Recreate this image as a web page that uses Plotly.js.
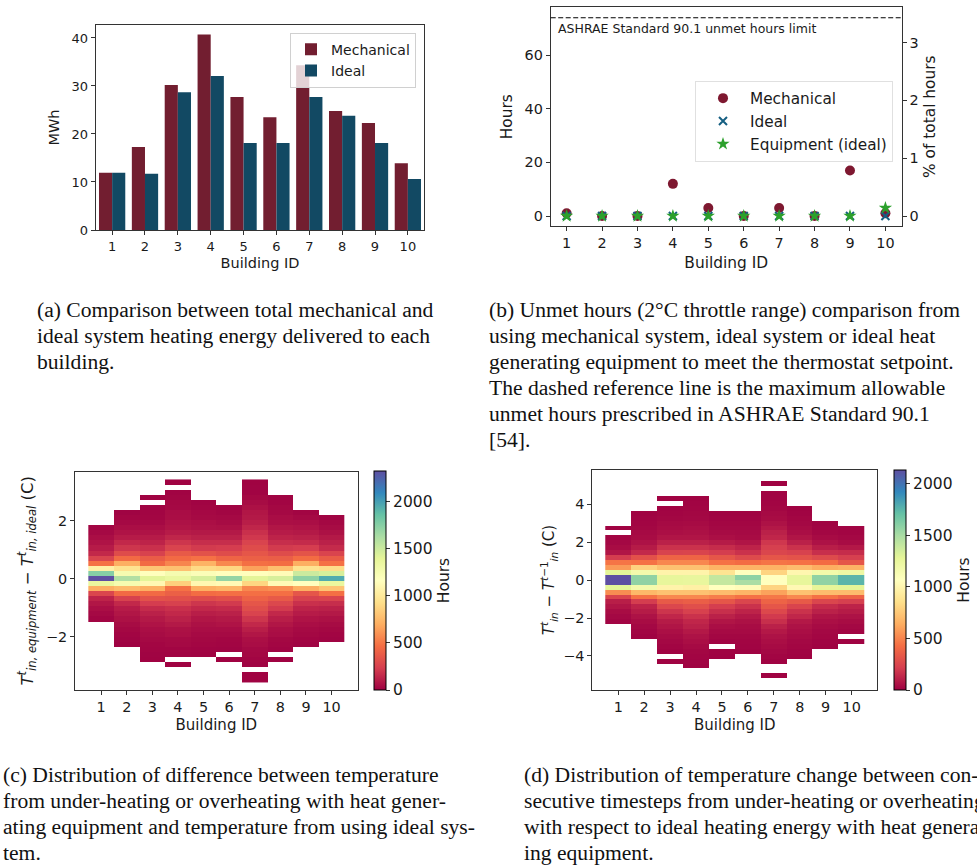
<!DOCTYPE html>
<html><head><meta charset="utf-8">
<script src="https://cdn.plot.ly/plotly-3.0.1.min.js"></script>
<style>html,body{margin:0;padding:0;background:#fff}#chart{width:977px;height:867px}</style>
</head><body><div id="chart"></div><script>
const n = null;
const buildings = [1,2,3,4,5,6,7,8,9,10];
// (a) heating energy, MWh
const energyMechanical = [11.9,17.3,30.2,40.7,27.7,23.5,34.3,24.8,22.3,13.9];
const energyIdeal = [11.9,11.7,28.7,32.1,18.1,18.1,27.7,23.8,18.1,10.6];
// (b) unmet hours
const unmetMechanical = [1,0,0,12,3,0,3,0,17,1];
const unmetIdeal = [0,0,0,0,0,0,0,0,0,0];
const unmetEquipment = [0,0,0,0,0,0,0,0,0,3];
const ashraeLimit = 74;
const hoursPerPercent = 21.58;
// (c) bin centres of T_equipment - T_ideal (C), counts per building (hours)
const diffBins = [3.345,3.17,2.995,2.82,2.645,2.47,2.295,2.12,1.945,1.77,1.595,1.42,1.245,1.07,0.895,0.72,0.545,0.37,0.195,0.02,-0.155,-0.33,-0.505,-0.68,-0.855,-1.03,-1.205,-1.38,-1.555,-1.73,-1.905,-2.08,-2.255,-2.43,-2.605,-2.78,-2.955,-3.13,-3.305,-3.48];
const diffB1 = [n,n,n,n,n,n,n,n,n,15,30,50,70,100,150,260,480,1050,1750,2320,1350,700,270,130,80,50,30,15,n,n,n,n,n,n,n,n,n,n,n,n];
const diffB2 = [n,n,n,n,n,n,10,20,30,50,70,100,150,200,300,450,700,950,1250,1600,1250,750,450,250,150,100,80,60,40,25,15,10,5,n,n,n,n,n,n,n];
const diffB3 = [n,n,n,8,n,10,15,20,30,50,70,100,130,180,250,380,450,800,1150,1400,1100,700,450,330,230,160,120,90,70,50,40,30,20,15,10,8,n,n,n,n];
const diffB4 = [8,n,12,18,25,30,45,50,65,75,100,140,200,260,370,450,550,780,1250,1350,850,480,400,320,250,180,150,120,90,60,55,35,30,15,12,n,8,n,n,n];
const diffB5 = [n,n,n,n,12,18,28,35,55,65,90,120,170,220,330,480,720,900,1200,1450,1100,700,460,300,200,150,110,80,60,45,35,25,20,12,8,n,n,n,n,n];
const diffB6 = [n,n,n,n,n,10,18,30,40,60,90,120,170,230,300,420,560,880,1150,1700,1120,730,470,320,220,160,120,90,70,45,35,20,15,10,n,8,n,n,n,n];
const diffB7 = [8,10,12,25,40,60,80,90,110,140,180,210,260,300,350,400,470,650,1150,1400,880,560,470,410,350,310,260,200,150,110,80,55,45,30,25,15,10,n,8,8];
const diffB8 = [n,n,n,10,15,25,30,45,55,80,100,130,170,220,300,390,460,770,1130,1450,1120,580,470,370,280,220,150,110,80,55,45,25,20,12,n,8,n,n,n,n];
const diffB9 = [n,n,n,n,n,n,15,30,50,70,90,120,160,230,340,460,700,950,1500,1720,1160,700,350,250,180,130,100,70,50,35,25,15,10,n,n,n,n,n,n,n];
const diffB10 = [n,n,n,n,n,n,n,10,25,40,60,90,120,160,260,380,480,920,1450,1950,1350,800,470,260,170,120,90,60,40,25,15,10,n,n,n,n,n,n,n,n];
// (d) bin centres of T(t) - T(t-1) (C), counts per building (hours)
const changeBins = [5.33,5.07,4.81,4.55,4.29,4.03,3.77,3.51,3.25,2.99,2.73,2.47,2.21,1.95,1.69,1.43,1.17,0.91,0.65,0.39,0.13,-0.13,-0.39,-0.65,-0.91,-1.17,-1.43,-1.69,-1.95,-2.21,-2.47,-2.73,-2.99,-3.25,-3.51,-3.77,-4.03,-4.29,-4.55,-4.81,-5.07,-5.33];
const chgB1 = [n,n,n,n,n,n,n,n,n,n,8,n,15,25,40,70,210,450,575,1280,2130,2130,1280,530,240,100,70,40,25,15,n,n,n,n,n,n,n,n,n,n,n,n];
const chgB2 = [n,n,n,n,n,n,n,8,12,15,20,30,40,60,90,140,300,440,790,1170,1575,1575,1170,680,440,210,120,90,60,40,25,15,8,n,n,n,n,n,n,n,n,n];
const chgB3 = [n,n,n,n,8,n,10,15,20,30,40,50,70,110,170,235,385,510,720,980,1260,1260,980,720,510,340,255,180,130,90,70,50,35,25,15,8,n,8,n,n,n,n];
const chgB4 = [n,n,n,n,8,10,15,20,25,35,45,55,70,110,170,240,385,510,720,980,1250,1250,960,720,510,360,290,225,170,130,110,80,60,45,30,20,15,10,6,n,n,n];
const chgB5 = [n,n,n,n,n,n,n,8,12,18,25,35,50,90,150,210,320,440,660,880,1400,1400,1065,700,480,320,215,160,110,70,45,30,20,10,n,8,5,n,n,n,n,n];
const chgB6 = [n,n,n,n,n,n,n,8,12,18,25,30,40,70,120,170,270,420,660,1060,1580,1490,1040,670,440,250,170,120,80,55,40,30,20,15,10,6,n,n,n,n,n,n];
const chgB7 = [n,8,n,10,12,15,20,30,40,60,80,110,130,190,220,250,320,450,660,800,1065,1065,800,600,460,380,320,260,200,160,110,80,60,45,35,25,15,8,n,n,6,n];
const chgB8 = [n,n,n,n,n,n,8,12,18,25,35,45,70,110,170,230,310,440,700,1000,1260,1260,1020,720,510,340,240,170,130,80,60,45,35,25,18,12,6,n,n,n,n,n];
const chgB9 = [n,n,n,n,n,n,n,n,n,8,12,20,35,60,100,160,270,420,640,1180,1575,1575,1270,700,440,250,150,110,70,50,35,25,18,12,6,n,n,n,n,n,n,n];
const chgB10 = [n,n,n,n,n,n,n,n,n,n,10,15,25,40,80,150,220,320,660,1210,1750,1750,1280,700,380,220,120,90,60,40,25,15,n,6,n,n,n,n,n,n,n,n];

const captionA = ['(a) Comparison between total mechanical and','ideal system heating energy delivered to each','building.'];
const captionB = ['(b) Unmet hours (2°C throttle range) comparison from','using mechanical system, ideal system or ideal heat','generating equipment to meet the thermostat setpoint.','The dashed reference line is the maximum allowable','unmet hours prescribed in ASHRAE Standard 90.1','[54].'];
const captionC = ['(c) Distribution of difference between temperature','from under-heating or overheating with heat gener-','ating equipment and temperature from using ideal sys-','tem.'];
const captionD = ['(d) Distribution of temperature change between con-','secutive timesteps from under-heating or overheating','with respect to ideal heating energy with heat generat-','ing equipment.'];

const diffCols = [diffB1,diffB2,diffB3,diffB4,diffB5,diffB6,diffB7,diffB8,diffB9,diffB10];
const chgCols = [chgB1,chgB2,chgB3,chgB4,chgB5,chgB6,chgB7,chgB8,chgB9,chgB10];
const toZ = cols => cols[0].map((_, i) => cols.map(c => c[i]));

const FONT = 'DejaVu Sans, Verdana, sans-serif';
const SERIF = 'Liberation Serif, Times New Roman, serif';
const TXT = '#1a1a1a';
const spectral = [[0,'#9e0142'],[0.1,'#d53e4f'],[0.2,'#f46d43'],[0.3,'#fdae61'],[0.4,'#fee08b'],[0.5,'#ffffbf'],[0.6,'#e6f598'],[0.7,'#abdda4'],[0.8,'#66c2a5'],[0.9,'#3288bd'],[1,'#5e4fa2']];

function ax(fs, extra){
  return Object.assign({showline:true, mirror:true, linecolor:'#333', linewidth:1, ticks:'outside', ticklen:4, tickwidth:1, tickcolor:'#333',
    showgrid:false, zeroline:false, tickfont:{family:FONT,size:fs,color:TXT}, automargin:false, fixedrange:true}, extra);
}
function ttl(text, standoff, fs){ return {text:text, standoff:standoff, font:{family:FONT,size:fs,color:TXT}}; }
function cbar(x, len, top){
  return {x:x, xanchor:'left', y:top, yanchor:'top', len:len, lenmode:'pixels', thickness:12, thicknessmode:'pixels',
    xpad:0, ypad:0, outlinewidth:1, outlinecolor:'#000', ticks:'outside', ticklen:4, tickcolor:'#333',
    tickvals:[0,500,1000,1500,2000], tickfont:{family:FONT,size:15.5,color:TXT},
    title:{text:'Hours', side:'right', font:{family:FONT,size:15.5,color:TXT}}};
}

const traces = [
  {type:'bar', x:buildings, y:energyMechanical, name:'Mechanical', marker:{color:'#721e30'}, xaxis:'x', yaxis:'y', legend:'legend'},
  {type:'bar', x:buildings, y:energyIdeal, name:'Ideal', marker:{color:'#124963'}, xaxis:'x', yaxis:'y', legend:'legend'},
  {type:'scatter', mode:'markers', x:[], y:[], xaxis:'x2', yaxis:'y3', showlegend:false, hoverinfo:'skip'},
  {type:'scatter', mode:'markers', x:buildings, y:unmetMechanical, name:'Mechanical', marker:{symbol:'circle', size:10, color:'#7e1830'}, xaxis:'x2', yaxis:'y2', legend:'legend2'},
  {type:'scatter', mode:'markers', x:buildings, y:unmetIdeal, name:'Ideal', marker:{symbol:'x-thin', size:8, color:'#155f82', line:{width:2, color:'#155f82'}}, xaxis:'x2', yaxis:'y2', legend:'legend2'},
  {type:'scatter', mode:'markers', x:buildings, y:unmetEquipment, name:'Equipment (ideal)', marker:{symbol:'star', size:10, color:'#2ca02c'}, xaxis:'x2', yaxis:'y2', legend:'legend2'},
  {type:'heatmap', x:buildings, y:diffBins, z:toZ(diffCols), colorscale:spectral, zmin:0, zmax:2320, xaxis:'x3', yaxis:'y4', showlegend:false,
    colorbar:cbar(374/977, 219, 1-471/867), hoverongaps:false},
  {type:'heatmap', x:buildings, y:changeBins, z:toZ(chgCols), colorscale:spectral, zmin:0, zmax:2130, xaxis:'x4', yaxis:'y5', showlegend:false,
    colorbar:cbar(893.5/977, 220, 1-470/867), hoverongaps:false}
];

const captionAnns = [];
function addCaption(lines, x, firstY){
  lines.forEach((t, i) => captionAnns.push({xref:'paper', yref:'paper', x:x/977, y:1-(firstY+26*i)/867, xanchor:'left', yanchor:'middle',
    showarrow:false, text:t, font:{family:SERIF, size:21.6, color:'#111'}}));
}
addCaption(captionA, 35, 310);
addCaption(captionB, 487, 310);
addCaption(captionC, 1, 775);
addCaption(captionD, 522, 775);

const y2range = [-3.73, 77.9];
const layout = {
  width:977, height:867, margin:{l:0,r:0,t:0,b:0}, paper_bgcolor:'#fff', plot_bgcolor:'#fff',
  font:{family:FONT, color:TXT}, barmode:'group', bargap:0.2, bargroupgap:0,
  xaxis: ax(13, {domain:[95.7/977, 424.3/977], anchor:'y', range:[0.5,10.5], tickvals:buildings, title:ttl('Building ID',5,14.5)}),
  yaxis: ax(13, {domain:[1-230/867, 1-25/867], anchor:'x', range:[0,42.7], tickvals:[0,10,20,30,40], title:ttl('MWh',8,14.5)}),
  xaxis2: ax(14.4, {domain:[550.7/977, 901.7/977], anchor:'y2', range:[0.55,10.46], tickvals:buildings, title:ttl('Building ID',6,15.4)}),
  yaxis2: ax(14.4, {domain:[1-226/867, 1-7.3/867], anchor:'x2', range:y2range, tickvals:[0,20,40,60], title:ttl('Hours',8,15.4)}),
  yaxis3: ax(14.4, {overlaying:'y2', side:'right', anchor:'x2', mirror:false, range:[y2range[0]/hoursPerPercent, y2range[1]/hoursPerPercent], tickvals:[0,1,2,3], title:ttl('% of total hours',6,15.4)}),
  xaxis3: ax(14.4, {domain:[75/977, 357.7/977], anchor:'y4', range:[-0.02,11.02], tickvals:buildings, title:ttl('Building ID',5,15)}),
  yaxis4: ax(14.4, {domain:[1-690/867, 1-471.7/867], anchor:'x3', range:[-3.83,3.70], tickvals:[-2,0,2],
    title:ttl('<i>T</i><sup><i>t</i></sup><sub><i>in, equipment</i></sub> − <i>T</i><sup><i>t</i></sup><sub><i>in, ideal</i></sub> (C)',8,16.5)}),
  xaxis4: ax(14.4, {domain:[592.3/977, 877.3/977], anchor:'y5', range:[0,10.99], tickvals:buildings, title:ttl('Building ID',5,15)}),
  yaxis5: ax(14.4, {domain:[1-690/867, 1-470/867], anchor:'x4', range:[-5.79,5.79], tickvals:[-4,-2,0,2,4],
    title:ttl('<i>T</i><sup><i>t</i></sup><sub><i>in</i></sub> − <i>T</i><sup><i>t</i>−1</sup><sub><i>in</i></sub> (C)',4,15)}),
  legend: {x:416/977, xanchor:'right', y:1-32.7/867, yanchor:'top', bgcolor:'rgba(255,255,255,0.8)', bordercolor:'#d0d0d0', borderwidth:1,
    font:{family:FONT,size:14,color:TXT}, itemwidth:30, tracegroupgap:0},
  legend2: {x:893/977, xanchor:'right', y:1-80.7/867, yanchor:'top', bgcolor:'rgba(255,255,255,0.8)', bordercolor:'#e0e0e0', borderwidth:1,
    font:{family:FONT,size:15.3,color:TXT}, itemwidth:44, tracegroupgap:0},
  shapes: [{type:'line', xref:'x2 domain', x0:0, x1:1, yref:'y2', y0:ashraeLimit, y1:ashraeLimit, line:{dash:'5px,2.5px', color:'#000', width:1.2}}],
  annotations: [
    {xref:'x2 domain', x:0.015, yref:'y2', y:ashraeLimit, xanchor:'left', yanchor:'top', yshift:-1, showarrow:false,
      text:'ASHRAE Standard 90.1 unmet hours limit', font:{family:FONT,size:12.5,color:TXT}}
  ].concat(captionAnns)
};
Plotly.newPlot('chart', traces, layout, {staticPlot:true, displayModeBar:false});
</script></body></html>
